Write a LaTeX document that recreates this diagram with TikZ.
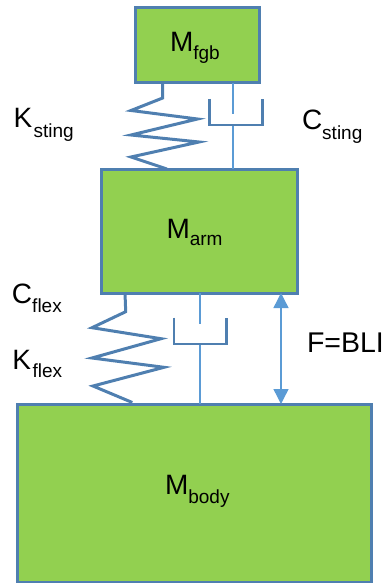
\documentclass[tikz,border=0pt]{standalone}
\usepackage{fontspec}
\setmainfont{Liberation Sans}
\usetikzlibrary{arrows.meta}
\definecolor{massfill}{HTML}{92D050}
\definecolor{massline}{HTML}{4F7FB0}
\definecolor{linkline}{HTML}{5B9BD5}
\newcommand{\symsub}[3]{{\fontsize{28}{28}\selectfont #1}\raisebox{-#3pt}{\fontsize{19}{19}\selectfont #2}}
\tikzset{
  mass/.style={draw=massline,fill=massfill,line width=3pt,rectangle,inner sep=0pt,outer sep=0pt},
  spring/.style={draw=massline,line width=3pt,line join=miter},
  rod/.style={draw=linkline,line width=2.2pt},
  cup/.style={draw=massline,line width=2.6pt,line join=miter},
  force/.style={draw=linkline,line width=1.4pt,{Triangle[length=15pt,width=15pt]}-{Triangle[length=15pt,width=15pt]}},
  lab/.style={anchor=base west,inner sep=0pt,outer sep=0pt,text=black}
}
\begin{document}
\begin{tikzpicture}[x=1pt,y=-1pt]
\useasboundingbox (0,0) rectangle (385,583);
\node[mass,minimum width=124pt,minimum height=75pt] (fgb) at (197,45.5) {};
\node[mass,minimum width=196pt,minimum height=124pt] (arm) at (199,231) {};
\node[mass,minimum width=354pt,minimum height=178pt] (body) at (194,493) {};
\coordinate (s1a) at (162.7,98);
\coordinate (s1b) at (131,110.5);
\coordinate (s1c) at (197.5,119);
\coordinate (s1d) at (131,135);
\coordinate (s1e) at (199,142);
\coordinate (s1f) at (131,157);
\coordinate (s1g) at (167,169);
\draw[spring] (fgb.south -| s1a) -- (s1a) -- (s1b) -- (s1c) -- (s1d) -- (s1e) -- (s1f) -- (s1g);
\coordinate (d1top) at (233.3,114);
\coordinate (d1bot) at (233.3,125);
\coordinate (c1l) at (209.5,99);
\coordinate (c1r) at (262.5,99);
\draw[rod] (fgb.south -| d1top) -- (d1top);
\draw[rod] (d1bot) -- (arm.north -| d1bot);
\draw[cup] (c1l) -- (c1l |- d1bot) -- (c1r |- d1bot) -- (c1r);
\coordinate (s2z) at (125,293);
\coordinate (s2a) at (125.7,311.7);
\coordinate (s2b) at (92,327.7);
\coordinate (s2c) at (161,338.7);
\coordinate (s2d) at (92,358);
\coordinate (s2e) at (164,367.3);
\coordinate (s2f) at (93,386);
\coordinate (s2g) at (132.3,402.5);
\draw[spring] (arm.south -| s2z) -- (s2a) -- (s2b) -- (s2c) -- (s2d) -- (s2e) -- (s2f) -- (s2g);
\coordinate (d2top) at (200,324);
\coordinate (d2bot) at (200,344);
\coordinate (c2l) at (174,317.7);
\coordinate (c2r) at (226.7,317.7);
\draw[rod] (arm.south -| d2top) -- (d2top);
\draw[rod] (d2bot) -- (body.north -| d2bot);
\draw[cup] (c2l) -- (c2l |- d2bot) -- (c2r |- d2bot) -- (c2r);
\coordinate (fx) at (281,350);
\draw[force] (arm.south -| fx) -- (body.north -| fx);
\node[lab] (tfgb) at (170,52) {\symsub{M}{fgb}{8}};
\node[lab] (tarm) at (166.5,238) {\symsub{M}{arm}{7.7}};
\node[lab] (tbody) at (165,494) {\symsub{M}{body}{9}};
\node[lab] (tks) at (13.5,127.3) {\symsub{K\kern1.5pt}{sting}{10.4}};
\node[lab] (tcs) at (302,129.5) {\symsub{C}{sting}{9.5}};
\node[lab] (tcf) at (12,303) {\symsub{C}{flex}{9}};
\node[lab] (tkf) at (12.5,369.3) {\symsub{K\kern1.5pt}{flex}{8}};
\node[lab] (tf) at (307,352) {\fontsize{28.5}{28.5}\selectfont F=BLI};
\end{tikzpicture}
\end{document}
